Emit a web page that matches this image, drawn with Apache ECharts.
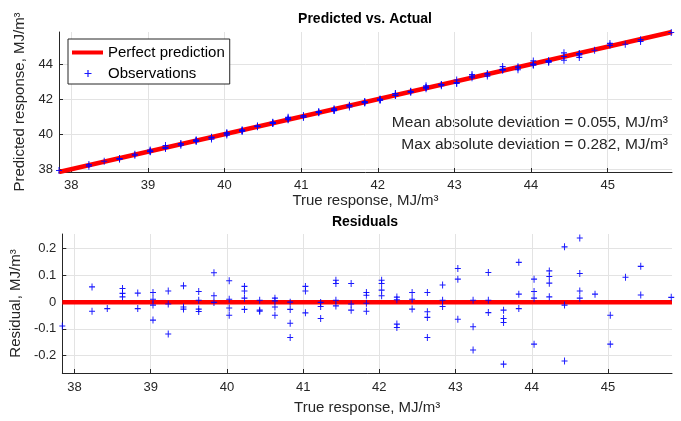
<!DOCTYPE html>
<html>
<head>
<meta charset="utf-8">
<script src="https://cdn.jsdelivr.net/npm/echarts@6/dist/echarts.min.js"></script>
<style>html,body{margin:0;padding:0;background:#fff;}#c{width:681px;height:421px;}</style>
</head>
<body>
<div id="c"></div>
<script>
// ---- data ----
var trueResponse = [
  37.84,
  38.23, 38.23,
  38.43,
  38.63, 38.63, 38.63,
  38.83, 38.83,
  39.03, 39.03, 39.03, 39.03,
  39.23, 39.23, 39.23,
  39.43, 39.43, 39.43,
  39.63, 39.63, 39.63, 39.63,
  39.83, 39.83, 39.83,
  40.03, 40.03, 40.03, 40.03,
  40.23, 40.23, 40.23, 40.23,
  40.43, 40.43, 40.43,
  40.63, 40.63, 40.63, 40.63,
  40.83, 40.83, 40.83, 40.83,
  41.03, 41.03, 41.03,
  41.23, 41.23, 41.23,
  41.43, 41.43, 41.43, 41.43,
  41.63, 41.63, 41.63,
  41.83, 41.83, 41.83, 41.83,
  42.03, 42.03, 42.03, 42.03,
  42.23, 42.23, 42.23, 42.23,
  42.43, 42.43, 42.43,
  42.63, 42.63, 42.63, 42.63,
  42.83, 42.83, 42.83,
  43.03, 43.03, 43.03,
  43.23, 43.23, 43.23,
  43.43, 43.43, 43.43,
  43.63, 43.63, 43.63, 43.63,
  43.83, 43.83, 43.83,
  44.03, 44.03, 44.03, 44.03,
  44.23, 44.23, 44.23, 44.23,
  44.43, 44.43, 44.43,
  44.63, 44.63, 44.63, 44.63,
  44.83,
  45.03, 45.03,
  45.23,
  45.43, 45.43,
  45.83
];
var residual = [
  -0.089,
  0.057, -0.034,
  -0.024,
  0.051, 0.033, 0.020,
  0.034, -0.024,
  0.036, 0.011, -0.011, -0.067,
  0.042, -0.007, -0.119,
  0.061, -0.018, -0.026,
  0.040, 0.007, -0.026, -0.035,
  0.110, 0.024, -0.001,
  0.080, 0.011, -0.022, -0.049,
  0.059, 0.042, 0.015, -0.027,
  0.007, -0.030, -0.034,
  0.015, 0.005, -0.018, -0.049,
  0.000, -0.027, -0.079, -0.132,
  0.059, 0.042, -0.040,
  -0.001, -0.016, -0.061,
  0.082, 0.070, 0.007, -0.014,
  0.070, -0.007, -0.030,
  0.036, 0.026, -0.004, -0.034,
  0.082, 0.070, 0.045, 0.024,
  0.019, 0.009, -0.082, -0.095,
  0.036, 0.011, -0.026,
  0.036, -0.036, -0.057, -0.132,
  0.064, 0.007, -0.016,
  0.126, 0.086, -0.064,
  0.007, -0.092, -0.179,
  0.111, 0.007, -0.039,
  -0.030, -0.061, -0.076, -0.232,
  0.149, 0.030, -0.024,
  0.086, 0.040, 0.015, -0.157,
  0.117, 0.096, 0.071, 0.020,
  0.207, -0.011, -0.220,
  0.240, 0.107, 0.042, 0.015,
  0.030,
  -0.049, -0.157,
  0.093,
  0.134, 0.027,
  0.018
];
var predictedResponse = [
  37.929,
  38.173, 38.264,
  38.454,
  38.579, 38.597, 38.610,
  38.796, 38.854,
  38.994, 39.019, 39.041, 39.097,
  39.188, 39.237, 39.349,
  39.369, 39.448, 39.456,
  39.590, 39.623, 39.656, 39.665,
  39.720, 39.806, 39.831,
  39.950, 40.019, 40.052, 40.079,
  40.171, 40.188, 40.215, 40.257,
  40.423, 40.460, 40.464,
  40.615, 40.625, 40.648, 40.679,
  40.830, 40.857, 40.909, 40.962,
  40.971, 40.988, 41.070,
  41.231, 41.246, 41.291,
  41.348, 41.360, 41.423, 41.444,
  41.560, 41.637, 41.660,
  41.794, 41.804, 41.834, 41.864,
  41.948, 41.960, 41.985, 42.006,
  42.211, 42.221, 42.312, 42.325,
  42.394, 42.419, 42.456,
  42.594, 42.666, 42.687, 42.762,
  42.766, 42.823, 42.846,
  42.904, 42.944, 43.094,
  43.223, 43.322, 43.409,
  43.319, 43.423, 43.469,
  43.660, 43.691, 43.706, 43.862,
  43.681, 43.800, 43.854,
  43.944, 43.990, 44.015, 44.187,
  44.113, 44.134, 44.159, 44.210,
  44.223, 44.441, 44.650,
  44.390, 44.523, 44.588, 44.615,
  44.800,
  45.079, 45.187,
  45.137,
  45.296, 45.403,
  45.812
];
var perfectLineX = [37.84, 45.84];
var perfectLineY = [37.84, 45.84];
var zeroLineX = [37.84, 45.84];
var zeroLineY = [0, 0];
var xRange = [37.84, 45.84];
var yRangeTop = [37.84, 45.84];
var yRangeResid = [-0.265, 0.255];
var titles = ['Predicted vs. Actual', 'Residuals'];
var xName = 'True response, MJ/m\u00b3';
var yNameTop = 'Predicted response, MJ/m\u00b3';
var yNameResid = 'Residual, MJ/m\u00b3';
var legendNames = ['Perfect prediction', 'Observations'];
var statTexts = ['Mean absolute deviation = 0.055, MJ/m\u00b3', 'Max absolute deviation = 0.282, MJ/m\u00b3'];

// ---- build chart ----
var FONT = '"Liberation Sans", Arial, Helvetica, sans-serif';
var TXT = '#262626';
var GRIDC = '#e3e3e3';
var plusPath = 'path://M4.2,0h1.6v10h-1.6zM0,4.2h10v1.6h-10z';

function zip(a, b) { var r = []; for (var i = 0; i < a.length; i++) r.push([a[i], b[i]]); return r; }

function xAxisCfg(gi, labelMargin, nameGap) {
  return {
    gridIndex: gi, type: 'value', min: xRange[0], max: xRange[1],
    minInterval: 1, maxInterval: 1,
    name: xName, nameLocation: 'middle', nameGap: nameGap,
    nameTextStyle: { color: TXT, fontSize: 15, fontFamily: FONT },
    axisLine: { show: true, onZero: false, lineStyle: { color: TXT, width: 1 } },
    axisTick: { show: true, inside: true, length: 4, lineStyle: { color: TXT } },
    axisLabel: { show: true, color: TXT, fontSize: 13, fontFamily: FONT, margin: labelMargin,
                 showMinLabel: false, showMaxLabel: false,
                 formatter: function (v) { return Math.abs(v - Math.round(v)) < 1e-6 ? String(Math.round(v)) : ''; } },
    splitLine: { show: true, showMinLine: false, showMaxLine: false, lineStyle: { color: GRIDC, width: 1 } }
  };
}
function yAxisCfg(gi, range, step, name, nameGap) {
  return {
    gridIndex: gi, type: 'value', min: range[0], max: range[1],
    minInterval: step, maxInterval: step,
    name: name, nameLocation: 'middle', nameGap: nameGap,
    nameTextStyle: { color: TXT, fontSize: 15, fontFamily: FONT },
    axisLine: { show: true, onZero: false, lineStyle: { color: TXT, width: 1 } },
    axisTick: { show: true, inside: true, length: 4, lineStyle: { color: TXT } },
    axisLabel: { show: true, color: TXT, fontSize: 13, fontFamily: FONT, margin: 6,
                 showMinLabel: false, showMaxLabel: false },
    splitLine: { show: true, showMinLine: false, showMaxLine: false, lineStyle: { color: GRIDC, width: 1 } }
  };
}

var option = {
  animation: false,
  backgroundColor: '#fff',
  textStyle: { fontFamily: FONT },
  title: [
    { text: titles[0], left: 365, top: 12, textAlign: 'center', padding: 0,
      textStyle: { fontSize: 14, fontWeight: 'bold', color: '#000', fontFamily: FONT } },
    { text: titles[1], left: 365, top: 215, textAlign: 'center', padding: 0,
      textStyle: { fontSize: 14, fontWeight: 'bold', color: '#000', fontFamily: FONT } }
  ],
  grid: [
    { left: 59, top: 32, width: 613, height: 140, containLabel: false },
    { left: 59, top: 234, width: 613, height: 139, containLabel: false }
  ],
  xAxis: [ xAxisCfg(0, 7, 12), xAxisCfg(1, 8, 27) ],
  yAxis: [ yAxisCfg(0, yRangeTop, 2, yNameTop, 27), yAxisCfg(1, yRangeResid, 0.1, yNameResid, 27) ],
  legend: {
    orient: 'vertical', left: 68, top: 39,
    padding: [6, 5, 3, 4], itemGap: 6, itemWidth: 31, itemHeight: 14,
    backgroundColor: '#fff', borderColor: TXT, borderWidth: 1,
    selectedMode: false,
    textStyle: { color: '#000', fontSize: 15, fontFamily: FONT },
    data: [
      { name: legendNames[0], icon: 'path://M0,0M31,14M0,5H31V9H0Z', itemStyle: { color: '#ff0000' } },
      { name: legendNames[1], icon: 'path://M0,0M31,14M12.5,6.4H19.5V7.6H12.5ZM15.4,3.5H16.6V10.5H15.4Z', itemStyle: { color: '#0000ff' } }
    ]
  },
  graphic: [
    { type: 'text', right: 13, top: 115, style: { text: statTexts[0], fill: TXT, font: '15.5px ' + FONT } },
    { type: 'text', right: 13, top: 137, style: { text: statTexts[1], fill: TXT, font: '15.5px ' + FONT } }
  ],
  series: [
    { name: legendNames[0], type: 'line', xAxisIndex: 0, yAxisIndex: 0, data: zip(perfectLineX, perfectLineY),
      symbol: 'none', lineStyle: { color: '#ff0000', width: 4.5 }, itemStyle: { color: '#ff0000' }, z: 2 },
    { name: legendNames[1], type: 'scatter', xAxisIndex: 0, yAxisIndex: 0, data: zip(trueResponse, predictedResponse),
      symbol: plusPath, symbolSize: [6, 7], itemStyle: { color: '#0000ff', opacity: 0.9 }, z: 3 },
    { name: 'zero', type: 'line', xAxisIndex: 1, yAxisIndex: 1, data: zip(zeroLineX, zeroLineY),
      symbol: 'none', lineStyle: { color: '#ff0000', width: 4.5 }, itemStyle: { color: '#ff0000' }, z: 2 },
    { name: 'resid', type: 'scatter', xAxisIndex: 1, yAxisIndex: 1, data: zip(trueResponse, residual),
      symbol: plusPath, symbolSize: [6, 7], itemStyle: { color: '#0000ff', opacity: 0.9 }, z: 3 }
  ]
};
var chart = echarts.init(document.getElementById('c'), null, { renderer: 'canvas' });
chart.setOption(option);
</script>
</body>
</html>
